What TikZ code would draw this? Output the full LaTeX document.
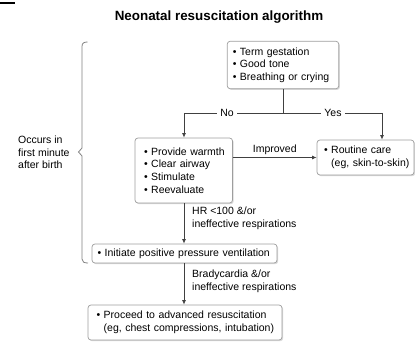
\documentclass[tikz,border=0pt]{standalone}
\usepackage{fontspec}
\setmainfont{Liberation Sans}
\usetikzlibrary{arrows.meta,shadows}
\newcommand\bitem[1]{\mbox{\textbullet\ #1}}
\newcommand\bcont[1]{\mbox{\phantom{\textbullet\ }#1}}
\begin{document}
\begin{tikzpicture}[x=1pt,y=-1pt,
  txt/.style={font=\fontsize{10.5}{12.6}\selectfont},
  stepbox/.style={txt, draw=black!38, line width=0.7pt, fill=white, rounded corners=3pt,
    align=left, inner ysep=0pt,
    drop shadow={shadow xshift=1.2pt, shadow yshift=-1.2pt, fill=black!25, opacity=0.6}},
  conn/.style={draw=black!75, line width=0.8pt},
  arr/.style={conn, -{Latex[length=4.5pt,width=4pt]}},
  lbl/.style={txt, align=left, inner sep=0pt},
  brace/.style={draw=black!50, line width=0.8pt}]
\useasboundingbox (0,0) rectangle (415,342);

% corner bar
\fill[black] (0,1.6) rectangle (14.5,4);

% title
\node[font=\fontsize{13.4}{15}\selectfont\bfseries] (title) at (219,17) {Neonatal resuscitation algorithm};

% boxes
\node[stepbox, inner xsep=5.5pt, text width=100.5pt, minimum height=47.5pt] (b1) at (283,65)
  {\bitem{Term gestation}\\\bitem{Good tone}\\\bitem{Breathing or crying}};
\node[stepbox, inner xsep=9pt, text width=79.5pt, minimum height=65pt] (b2) at (183.75,170.5)
  {\bitem{Provide warmth}\\\bitem{Clear airway}\\\bitem{Stimulate}\\\bitem{Reevaluate}};
\node[stepbox, inner xsep=7pt, text width=83pt, minimum height=35pt] (b3) at (365.5,157.5)
  {\bitem{Routine care}\\\bcont{(eg, skin-to-skin)}};
\node[stepbox, inner xsep=5.5pt, text width=174pt, minimum height=19pt] (b4) at (184.5,253.5)
  {\bitem{Initiate positive pressure ventilation}};
\node[stepbox, inner xsep=8.5pt, text width=177pt, minimum height=35pt] (b5) at (185,322.5)
  {\bitem{Proceed to advanced resuscitation}\\\bcont{(eg, chest compressions, intubation)}};

% branching
\coordinate (split) at (283,113);
\coordinate (noend) at (184,113);
\coordinate (yesend) at (382,113);
\draw[conn] (b1.south) -- (split);
\draw[conn] (noend) -- (yesend);
\node[txt, fill=white, inner xsep=3pt, inner ysep=1pt] (no) at (227,113) {No};
\node[txt, fill=white, inner xsep=3pt, inner ysep=1pt] (yes) at (333,113) {Yes};
\draw[arr] (noend) -- (noend |- b2.north);
\draw[arr] (yesend) -- (yesend |- b3.north);

% improved
\draw[arr] (b2.east |- b3.west) -- node[txt, above=2pt, inner sep=0pt] (impr) {Improved} (b3.west);

% downward steps
\draw[arr] (b2.south -| noend) -- (b4.north -| noend);
\node[lbl, anchor=north west] (hr) at (192,207) {HR <100 \&/or\\ineffective respirations};
\draw[arr] (b4.south -| noend) -- (b5.north -| noend);
\node[lbl, anchor=north west] (brady) at (192,270) {Bradycardia \&/or\\ineffective respirations};

% bracket
\draw[brace] (87.5,42) .. controls (84,42) and (82,43) .. (82,46.5)
  -- (82,148) -- (78.5,152) -- (82,156) -- (82,259)
  .. controls (82,262) and (84,263) .. (88,263);
\node[lbl, anchor=west] (occ) at (18,152.5) {Occurs in\\first minute\\after birth};
\end{tikzpicture}
\end{document}
